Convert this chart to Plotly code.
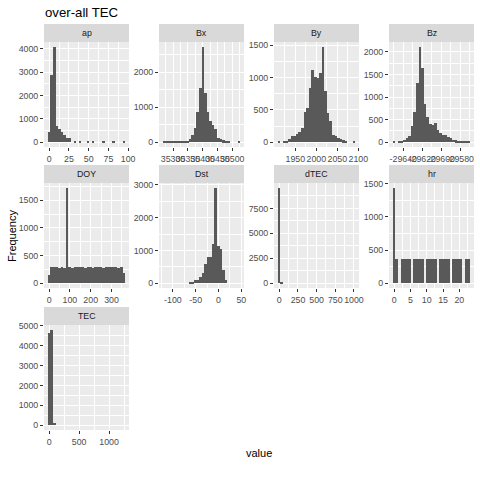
import plotly.graph_objects as go

panel_names = ["ap", "Bx", "By", "Bz", "DOY", "Dst", "dTEC", "hr", "TEC"]

ap_counts = [450, 2900, 4090, 680, 560, 430, 290, 200, 170, 0, 60, 0, 60, 0, 0, 30, 0, 30, 0, 0, 0, 25, 0, 0, 0, 25, 0, 0, 0, 25]
bx_counts = [20, 20, 20, 20, 20, 20, 20, 20, 20, 40, 100, 200, 420, 870, 1550, 2730, 1400, 870, 620, 480, 370, 130, 90, 50, 25, 25, 0, 0, 0, 20]
by_counts = [20, 0, 20, 25, 50, 100, 100, 130, 160, 220, 460, 535, 840, 1110, 1005, 990, 1065, 1475, 790, 445, 330, 110, 90, 70, 50, 30, 15, 0, 0, 20]
bz_counts = [30, 0, 20, 30, 60, 95, 140, 355, 660, 1305, 2115, 1640, 855, 565, 400, 380, 420, 260, 200, 165, 160, 125, 95, 55, 40, 25, 25, 25, 25, 20]
doy_counts = [145, 288, 288, 288, 280, 288, 280, 1725, 288, 280, 288, 288, 288, 288, 280, 288, 288, 280, 288, 288, 288, 280, 288, 288, 288, 288, 288, 280, 288, 190]
dst_counts = [0, 0, 0, 0, 0, 0, 0, 0, 0, 0, 25, 35, 100, 100, 190, 310, 585, 795, 800, 1190, 2910, 1130, 1040, 410, 90, 0, 0, 0, 0, 0]
dtec_counts = [9570, 120] + [0] * 28
hr_counts = [1440, 365, 0, 365, 365, 365, 365, 0, 365, 365, 365, 365, 0, 365, 365, 365, 365, 0, 365, 365, 365, 365, 0, 365, 365, 365, 365, 0, 365, 365]
tec_counts = [4640, 4800, 115] + [0] * 27
counts = [ap_counts, bx_counts, by_counts, bz_counts, doy_counts, dst_counts, dtec_counts, hr_counts, tec_counts]

bin_first = [0, 35270, 1911.5, -29649.6, 0, -119.2, -2, 0, 0]
bin_width = [3.26, 8.7, 6.13, 2.71, 12.4, 5.65, 34.5, 0.79, 43]

x_ticks = [
    [0, 25, 50, 75, 100],
    [35300, 35350, 35400, 35450, 35500],
    [1950, 2000, 2050, 2100],
    [-29640, -29620, -29600, -29580],
    [0, 100, 200, 300],
    [-100, -50, 0, 50],
    [0, 250, 500, 750, 1000],
    [0, 5, 10, 15, 20],
    [0, 500, 1000],
]
y_ticks = [
    [0, 1000, 2000, 3000, 4000],
    [0, 1000, 2000],
    [0, 500, 1000, 1500],
    [0, 500, 1000, 1500, 2000],
    [0, 500, 1000, 1500],
    [0, 1000, 2000, 3000],
    [0, 2500, 5000, 7500],
    [0, 500, 1000, 1500],
    [0, 1000, 2000, 3000, 4000, 5000],
]

W = H = 480
col_left = [44, 159, 274, 389]
row_top = [42, 183, 325]
panel_w, panel_h, strip_h = 85, 105, 18

fig = go.Figure()
shapes, annotations = [], []
TICK = "#4D4D4D"

for i, name in enumerate(panel_names):
    r, c = i // 4, i % 4
    L, T = col_left[c], row_top[r]
    suffix = "" if i == 0 else str(i + 1)
    x0, w, vals = bin_first[i], bin_width[i], counts[i]
    fig.add_trace(go.Bar(
        x=[x0 + k * w for k in range(len(vals))], y=vals, width=w,
        marker=dict(color="#595959", line=dict(width=0)),
        xaxis="x" + suffix, yaxis="y" + suffix, showlegend=False, hoverinfo="skip",
    ))
    xt, yt = x_ticks[i], y_ticks[i]
    m = max(vals)
    grid = dict(showgrid=True, gridcolor="white", gridwidth=1.07, zeroline=False, showline=False,
                ticks="outside", ticklen=3, tickwidth=1, tickcolor="#333333",
                tickfont=dict(family="Liberation Sans", size=8.8, color=TICK),
                tickmode="array", layer="below traces")
    fig.update_layout({
        "xaxis" + suffix: dict(
            domain=[L / W, (L + panel_w) / W], anchor="y" + suffix,
            range=[x0 - 2 * w, x0 + 31 * w], tickvals=xt, ticktext=[str(v) for v in xt], tickangle=0,
            minor=dict(tickmode="linear", tick0=xt[0], dtick=(xt[1] - xt[0]) / 2, showgrid=True,
                       gridcolor="white", gridwidth=0.53, ticks=""),
            **grid),
        "yaxis" + suffix: dict(
            domain=[1 - (T + panel_h) / H, 1 - T / H], anchor="x" + suffix,
            range=[-0.05 * m, 1.05 * m], tickvals=yt, ticktext=[str(v) for v in yt],
            minor=dict(tickmode="linear", tick0=yt[0], dtick=(yt[1] - yt[0]) / 2, showgrid=True,
                       gridcolor="white", gridwidth=0.53, ticks=""),
            **grid),
    })
    shapes.append(dict(type="rect", xref="paper", yref="paper", layer="below", line=dict(width=0),
                       fillcolor="#D9D9D9", x0=L / W, x1=(L + panel_w) / W,
                       y0=1 - T / H, y1=1 - (T - strip_h) / H))
    annotations.append(dict(text=name, xref="paper", yref="paper", showarrow=False,
                            xanchor="center", yanchor="middle",
                            x=(L + panel_w / 2) / W, y=1 - (T - strip_h / 2) / H,
                            font=dict(family="Liberation Sans", size=8.8, color="#1A1A1A")))

annotations += [
    dict(text="over-all TEC", xref="paper", yref="paper", showarrow=False, xanchor="left", yanchor="middle",
         x=42.5 / W, y=1 - 12.5 / H, font=dict(family="Liberation Sans", size=13.2, color="black")),
    dict(text="value", xref="paper", yref="paper", showarrow=False, xanchor="center", yanchor="middle",
         x=259 / W, y=1 - 453 / H, font=dict(family="Liberation Sans", size=11, color="black")),
    dict(text="Frequency", xref="paper", yref="paper", showarrow=False, textangle=-90,
         xanchor="center", yanchor="middle",
         x=12 / W, y=1 - 236 / H, font=dict(family="Liberation Sans", size=11, color="black")),
]

fig.update_layout(
    width=W, height=H, margin=dict(l=0, r=0, t=0, b=0, pad=0, autoexpand=False), paper_bgcolor="white",
    plot_bgcolor="#EBEBEB", barmode="overlay", bargap=0, shapes=shapes, annotations=annotations,
    showlegend=False,
)
fig.write_html("out.html", config={"displayModeBar": False},
               post_script="document.body.style.margin='0';document.body.style.overflow='hidden';"
                           "document.documentElement.style.overflow='hidden';")
